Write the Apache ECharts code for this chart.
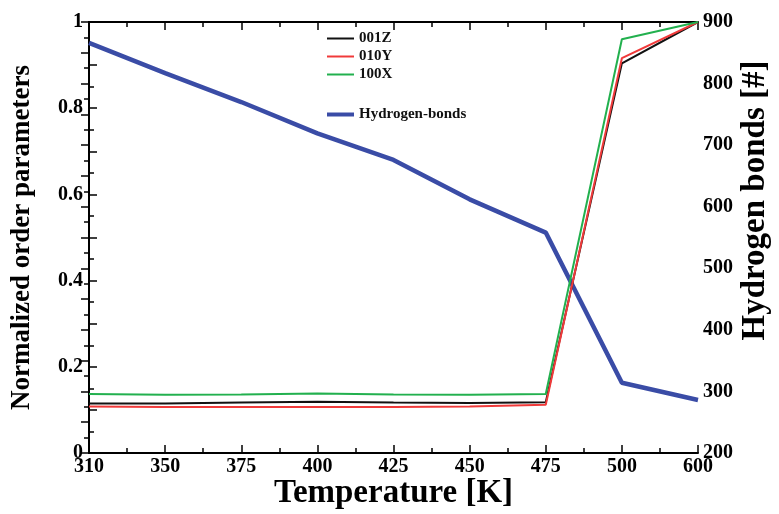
<!DOCTYPE html>
<html>
<head>
<meta charset="utf-8">
<script src="https://cdn.jsdelivr.net/npm/echarts@6/dist/echarts.min.js"></script>
<style>
html,body{margin:0;padding:0;background:#fff;}
#main{width:779px;height:514px;}
</style>
</head>
<body>
<div id="main"></div>
<script>
// temperatures are plotted evenly spaced (one slot per run)
var temps = ['310', '350', '375', '400', '425', '450', '475', '500', '600'];
var z001 = [0.115, 0.115, 0.117, 0.119, 0.117, 0.116, 0.118, 0.904, 1.0];
var y010 = [0.108, 0.107, 0.107, 0.107, 0.107, 0.108, 0.112, 0.916, 1.0];
var x100 = [0.137, 0.135, 0.136, 0.138, 0.136, 0.135, 0.137, 0.960, 1.0];
var hbonds = [866, 817, 770, 719, 676, 612, 558, 314, 286];

var serif = 'Liberation Serif';

function pairs(arr) {
    var out = [];
    for (var i = 0; i < arr.length; i++) {
        out.push([i, arr[i]]);
    }
    return out;
}

var myChart = echarts.init(document.getElementById('main'));

var axisLine = {show: true, lineStyle: {color: '#000', width: 2}};
var tick = {inside: true, length: 8, lineStyle: {color: '#000', width: 1.5}};
var minor = {show: true, splitNumber: 2, length: 5, lineStyle: {color: '#000', width: 1.5}};
var legendText = {fontFamily: serif, fontWeight: 'bold', fontSize: 15, color: '#111'};

var option = {
    animation: false,
    backgroundColor: '#fff',
    grid: {left: 89, right: 81, top: 22, bottom: 61, containLabel: false, outerBoundsMode: 'none'},
    legend: [
        {
            data: ['001Z', '010Y', '100X'],
            orient: 'vertical',
            left: 322,
            top: 26,
            itemGap: 3,
            itemWidth: 27,
            itemHeight: 2,
            icon: 'rect',
            textStyle: legendText
        },
        {
            data: ['Hydrogen-bonds'],
            orient: 'vertical',
            left: 322,
            top: 102,
            itemWidth: 27,
            itemHeight: 4,
            icon: 'rect',
            textStyle: legendText
        }
    ],
    xAxis: [
        {
            type: 'value',
            min: 0,
            max: temps.length - 1,
            interval: 1,
            name: 'Temperature [K]',
            nameLocation: 'middle',
            nameGap: 24,
            nameMoveOverlap: false,
            nameTextStyle: {fontFamily: serif, fontWeight: 'bold', fontSize: 33, color: '#000', verticalAlign: 'top'},
            axisLine: axisLine,
            axisTick: tick,
            minorTick: minor,
            axisLabel: {
                margin: 4,
                fontFamily: serif, fontWeight: 'bold', fontSize: 20, color: '#000',
                formatter: function (v) { return temps[v]; }
            },
            splitLine: {show: false}
        },
        {
            type: 'value',
            position: 'top',
            min: 0,
            max: temps.length - 1,
            interval: 1,
            axisLine: axisLine,
            axisTick: tick,
            minorTick: minor,
            axisLabel: {show: false},
            splitLine: {show: false}
        }
    ],
    yAxis: [
        {
            type: 'value',
            min: 0,
            max: 1,
            interval: 0.1,
            name: 'Normalized order parameters',
            nameLocation: 'middle',
            nameGap: 53,
            nameMoveOverlap: false,
            nameTextStyle: {fontFamily: serif, fontWeight: 'bold', fontSize: 27, color: '#000'},
            axisLine: axisLine,
            axisTick: tick,
            minorTick: minor,
            axisLabel: {
                margin: 6,
                fontFamily: serif, fontWeight: 'bold', fontSize: 20, color: '#000',
                formatter: function (v) {
                    var k = Math.round(v * 10);
                    if (k % 2 !== 0) return '';
                    return String(k / 10);
                }
            },
            splitLine: {show: false}
        },
        {
            type: 'value',
            position: 'right',
            min: 200,
            max: 900,
            interval: 50,
            name: 'Hydrogen bonds [#]',
            nameLocation: 'middle',
            nameGap: 41,
            nameMoveOverlap: false,
            nameRotate: 90,
            nameTextStyle: {fontFamily: serif, fontWeight: 'bold', fontSize: 33, color: '#000', padding: [0, 0, 0, 74]},
            axisLine: axisLine,
            axisTick: tick,
            minorTick: minor,
            axisLabel: {
                margin: 5,
                fontFamily: serif, fontWeight: 'bold', fontSize: 20, color: '#000',
                formatter: function (v) { return v % 100 === 0 ? String(v) : ''; }
            },
            splitLine: {show: false}
        }
    ],
    series: [
        {
            name: 'Hydrogen-bonds',
            type: 'line',
            yAxisIndex: 1,
            data: pairs(hbonds),
            showSymbol: false,
            color: '#3a4ca6',
            lineStyle: {width: 4.5, color: '#3a4ca6'},
            z: 1
        },
        {
            name: '001Z',
            type: 'line',
            data: pairs(z001),
            showSymbol: false,
            color: '#111',
            lineStyle: {width: 2, color: '#111'},
            z: 2
        },
        {
            name: '010Y',
            type: 'line',
            data: pairs(y010),
            showSymbol: false,
            color: '#f03a3a',
            lineStyle: {width: 2, color: '#f03a3a'},
            z: 3
        },
        {
            name: '100X',
            type: 'line',
            data: pairs(x100),
            showSymbol: false,
            color: '#22b04e',
            lineStyle: {width: 2, color: '#22b04e'},
            z: 4
        }
    ]
};

myChart.setOption(option);
</script>
</body>
</html>
